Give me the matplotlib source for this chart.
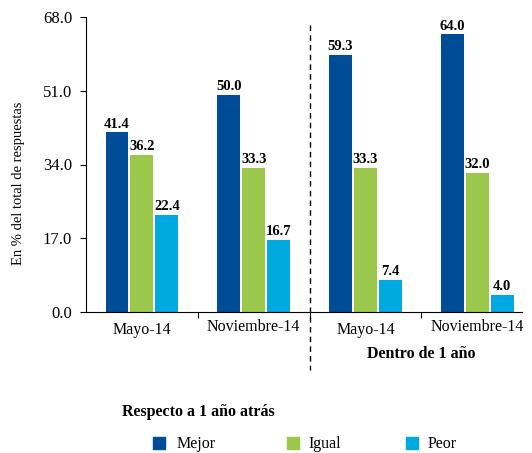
import numpy as np
import matplotlib.pyplot as plt
from matplotlib.patches import Rectangle
import matplotlib.transforms as mtransforms

plt.rcParams['font.family'] = ['Liberation Serif', 'DejaVu Serif']

groups = ['Mayo-14', 'Noviembre-14', 'Mayo-14', 'Noviembre-14']
series = ['Mejor', 'Igual', 'Peor']
mejor = [41.4, 50.0, 59.3, 64.0]
igual = [36.2, 33.3, 33.3, 32.0]
peor = [22.4, 16.7, 7.4, 4.0]
colors = ['#004C97', '#9BC84A', '#00A9E0']

W, H = 532, 453
fig = plt.figure(figsize=(W/100, H/100), dpi=100)
ax = fig.add_axes([86/W, 141/H, 436/W, 295/H])

x = np.arange(len(groups))
w = 0.205
off = 0.223
for vals, dx, c in zip([mejor, igual, peor], [-off, 0, off], colors):
    bars = ax.bar(x + dx, vals, w, color=c)
    for b, v in zip(bars, vals):
        ax.text(b.get_x() + b.get_width()/2, v + 0.4, '%.1f' % v,
                ha='center', va='bottom', fontsize=10.5, fontweight='bold')

ax.set_xlim(-0.5, 3.4)
ax.set_ylim(0, 68)
ax.set_yticks([0, 17, 34, 51, 68])
ax.set_yticklabels(['%.1f' % t for t in [0, 17, 34, 51, 68]], fontsize=12)
ax.set_xticks([0.5, 1.5, 2.5])
ax.set_xticklabels([])
ax.tick_params(axis='x', length=4, direction='out')
ax.tick_params(axis='y', length=4, direction='out', pad=6)
ax.spines['top'].set_visible(False)
ax.spines['right'].set_visible(False)
ax.set_ylabel('En % del total de respuestas', fontsize=10.5)
ax.yaxis.set_label_coords(-0.14, 0.437)

# group labels (the Noviembre ones sit a bit higher in the original)
trans = mtransforms.blended_transform_factory(ax.transData, fig.transFigure)
label_y = [330, 327, 330, 327]
for xi, g, yy in zip(x, groups, label_y):
    ax.text(xi, 1 - yy/H, g, transform=trans, ha='center', va='center', fontsize=11.5)

ax.plot([1.5, 1.5], [66.2, -13.4], ls=(0, (4, 3)), color='black', lw=1, clip_on=False)
ax.text(2.5, 1 - 354/H, 'Dentro de 1 año', transform=trans,
        ha='center', va='center', fontsize=11.5, fontweight='bold')

# legend drawn by hand to match spacing
fig.text(122/W, 1 - 412/H, 'Respecto a 1 año atrás', fontsize=11.5, fontweight='bold', va='center')
leg_box = [153, 287, 406]
leg_txt = [177, 308, 428]
for c, s, bx, tx in zip(colors, series, leg_box, leg_txt):
    fig.patches.append(Rectangle((bx/W, 1 - 449/H), 12/W, 12/H, color=c, transform=fig.transFigure))
    fig.text(tx/W, 1 - 444/H, s, fontsize=11.5, va='center')

fig.savefig('out.png', dpi=100)
